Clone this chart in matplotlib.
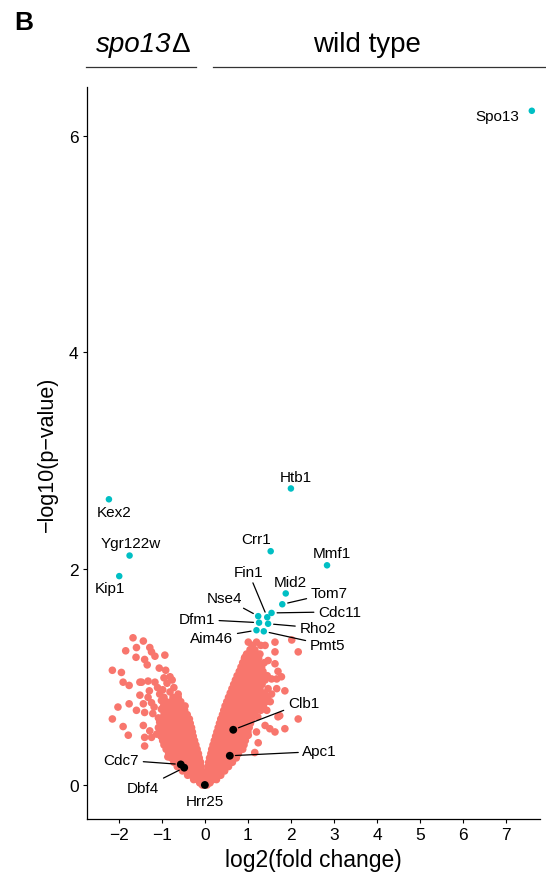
import matplotlib
matplotlib.use("Agg")
import matplotlib.pyplot as plt
from matplotlib.lines import Line2D

plt.rcParams['font.family'] = ['Liberation Sans', 'DejaVu Sans']

SALMON = '#F8766D'
TEAL = '#00BFC4'

# significant hits (log2 fold change, -log10 p)
hit_genes = ['Spo13', 'Htb1', 'Kex2', 'Ygr122w', 'Kip1', 'Crr1', 'Mmf1', 'Mid2',
             'Tom7', 'Cdc11', 'Fin1', 'Nse4', 'Dfm1', 'Rho2', 'Aim46', 'Pmt5']
hit_lfc = [7.60, 2.00, -2.23, -1.75, -1.99, 1.53, 2.84, 1.88,
           1.80, 1.55, 1.45, 1.24, 1.26, 1.47, 1.20, 1.37]
hit_logp = [6.23, 2.74, 2.64, 2.12, 1.93, 2.16, 2.03, 1.77,
            1.67, 1.59, 1.55, 1.56, 1.50, 1.49, 1.43, 1.42]

# marked cell-cycle genes
key_genes = ['Clb1', 'Apc1', 'Cdc7', 'Dbf4', 'Hrr25']
key_lfc = [0.66, 0.58, -0.56, -0.48, 0.0]
key_logp = [0.51, 0.27, 0.19, 0.16, 0.0]

# the rest of the proteins, dense part of the volcano, one row per p level
left_arm = [
    (0.00, [-0.06, 0.05]),
    (0.02, [-0.12, -0.05, 0.0]),
    (0.05, [-0.26, -0.17, -0.08, -0.02]),
    (0.09, [-0.40, -0.31, -0.22, -0.13, -0.05]),
    (0.13, [-0.52, -0.43, -0.34, -0.25, -0.16, -0.07]),
    (0.17, [-0.64, -0.55, -0.46, -0.37, -0.28, -0.19, -0.09]),
    (0.21, [-0.72, -0.63, -0.54, -0.45, -0.36, -0.27, -0.18, -0.10]),
    (0.25, [-0.78, -0.69, -0.60, -0.51, -0.42, -0.33, -0.24, -0.13]),
    (0.29, [-0.84, -0.75, -0.66, -0.57, -0.48, -0.39, -0.30, -0.21, -0.15]),
    (0.33, [-0.90, -0.81, -0.72, -0.63, -0.54, -0.45, -0.36, -0.27, -0.18]),
    (0.37, [-0.95, -0.85, -0.76, -0.67, -0.58, -0.49, -0.40, -0.31, -0.21]),
    (0.41, [-0.98, -0.89, -0.80, -0.71, -0.62, -0.53, -0.44, -0.35, -0.24]),
    (0.45, [-1.02, -0.92, -0.83, -0.74, -0.65, -0.56, -0.47, -0.38, -0.27]),
    (0.49, [-1.05, -0.95, -0.86, -0.77, -0.68, -0.59, -0.50, -0.40, -0.29]),
    (0.53, [-1.08, -0.98, -0.88, -0.79, -0.70, -0.61, -0.52, -0.42, -0.31]),
    (0.57, [-1.00, -0.91, -0.82, -0.73, -0.64, -0.55, -0.45, -0.34]),
    (0.61, [-0.97, -0.88, -0.79, -0.70, -0.61, -0.52, -0.43, -0.36]),
    (0.65, [-0.95, -0.86, -0.77, -0.68, -0.59, -0.50, -0.41]),
    (0.69, [-0.92, -0.83, -0.74, -0.65, -0.56, -0.47]),
    (0.73, [-0.96, -0.87, -0.76, -0.64, -0.54, -0.46]),
    (0.77, [-0.90, -0.78, -0.66, -0.56]),
    (0.81, [-0.95, -0.74, -0.62]),
]
right_arm = [
    (0.02, [0.05, 0.12]),
    (0.05, [0.03, 0.11, 0.19, 0.27]),
    (0.09, [0.05, 0.13, 0.21, 0.29, 0.37]),
    (0.13, [0.06, 0.14, 0.22, 0.30, 0.38, 0.46]),
    (0.17, [0.07, 0.15, 0.23, 0.31, 0.39, 0.47, 0.55]),
    (0.21, [0.09, 0.17, 0.25, 0.33, 0.41, 0.49, 0.57, 0.64]),
    (0.25, [0.11, 0.19, 0.28, 0.37, 0.46, 0.55, 0.64, 0.73]),
    (0.29, [0.14, 0.22, 0.31, 0.40, 0.49, 0.58, 0.67, 0.78]),
    (0.33, [0.16, 0.25, 0.34, 0.43, 0.52, 0.61, 0.70, 0.80, 0.88]),
    (0.37, [0.19, 0.28, 0.37, 0.46, 0.55, 0.64, 0.73, 0.82, 0.91]),
    (0.41, [0.22, 0.31, 0.40, 0.49, 0.58, 0.67, 0.76, 0.85, 0.94]),
    (0.45, [0.25, 0.34, 0.43, 0.52, 0.61, 0.70, 0.79, 0.88, 0.97]),
    (0.49, [0.28, 0.37, 0.46, 0.55, 0.64, 0.73, 0.82, 0.91, 1.00]),
    (0.53, [0.31, 0.40, 0.49, 0.58, 0.67, 0.76, 0.85, 0.94, 1.03]),
    (0.57, [0.34, 0.43, 0.52, 0.61, 0.70, 0.79, 0.88, 0.97, 1.06]),
    (0.61, [0.37, 0.46, 0.55, 0.64, 0.73, 0.82, 0.91, 1.00, 1.09]),
    (0.65, [0.41, 0.50, 0.59, 0.68, 0.77, 0.86, 0.95, 1.04, 1.14]),
    (0.69, [0.44, 0.53, 0.62, 0.71, 0.80, 0.89, 0.98, 1.07, 1.18, 1.30]),
    (0.73, [0.47, 0.56, 0.65, 0.74, 0.83, 0.92, 1.01, 1.10, 1.22, 1.36]),
    (0.77, [0.51, 0.60, 0.69, 0.78, 0.87, 0.96, 1.05, 1.15, 1.27, 1.42, 1.52]),
    (0.81, [0.55, 0.64, 0.73, 0.82, 0.91, 1.00, 1.09, 1.19, 1.31, 1.45]),
    (0.85, [0.59, 0.68, 0.77, 0.86, 0.95, 1.04, 1.13, 1.24, 1.38]),
    (0.89, [0.63, 0.72, 0.81, 0.90, 0.99, 1.08, 1.17, 1.28, 1.47]),
    (0.93, [0.67, 0.78, 0.89, 1.00, 1.11, 1.21, 1.33]),
    (0.97, [0.71, 0.82, 0.93, 1.04, 1.16, 1.25, 1.40]),
    (1.01, [0.75, 0.86, 0.97, 1.08, 1.20, 1.30, 1.45]),
    (1.05, [0.80, 0.92, 1.04, 1.16, 1.25, 1.35]),
    (1.09, [0.84, 0.96, 1.08, 1.20, 1.32]),
    (1.13, [0.88, 1.00, 1.12, 1.24, 1.38]),
    (1.17, [0.92, 1.03, 1.14, 1.25]),
    (1.21, [0.97, 1.12, 1.22]),
    (1.25, [1.05, 1.16]),
    (1.29, [1.10, 1.30]),
]
# scattered proteins away from the dense arms
loose_lfc = [-1.67, -1.43, -1.59, -1.84, -1.28, -1.24, -1.60, -1.40, -1.16, -0.93,
             -1.34, -1.06, -0.91, -2.15, -1.94, -0.81, -1.90, -1.76, -1.51, -1.32,
             -1.16, -0.88, -1.29, -1.51, -1.32, -1.05, -0.81, -0.70, -2.02, -1.76,
             -1.59, -1.43, -1.24, -1.01, -1.40, -1.21, -1.01, -0.85, -0.66, -2.15,
             -1.90, -1.78, -1.43, -1.28, -1.05, -0.89, -1.40, -1.12, -1.24, -1.40,
             -0.86, -1.47, -1.10, -0.98, -0.72, -0.62, -0.95, -1.18, -1.08, -0.76,
             1.01, 1.20, 1.40, 1.63, 2.02, 2.17, 1.09, 1.28, 1.63, 0.93,
             1.47, 1.63, 1.70, 1.78, 1.55, 1.67, 1.67, 1.86, 1.74, 2.17,
             1.86, 1.51, 1.20, 1.63, 1.40, 1.24, 1.01, 1.70, 1.16, 1.23,
             1.44, 1.28, 1.55, 1.12]
loose_logp = [1.36, 1.33, 1.27, 1.24, 1.27, 1.23, 1.18, 1.16, 1.19, 1.20,
              1.11, 1.08, 1.06, 1.06, 1.04, 1.00, 0.95, 0.92, 0.95, 0.96,
              0.95, 0.94, 0.87, 0.83, 0.81, 0.84, 0.86, 0.79, 0.72, 0.75,
              0.69, 0.75, 0.76, 0.78, 0.67, 0.66, 0.70, 0.66, 0.67, 0.61,
              0.54, 0.46, 0.55, 0.50, 0.58, 0.52, 0.44, 0.47, 0.44, 0.36,
              0.26, 0.95, 0.90, 0.88, 0.90, 0.84, 0.99, 0.72, 0.62, 0.97,
              1.32, 1.32, 1.29, 1.32, 1.34, 1.23, 1.24, 1.21, 1.23, 1.18,
              1.15, 1.12, 1.05, 1.00, 0.98, 0.98, 0.89, 0.87, 0.64, 0.61,
              0.52, 0.52, 0.49, 0.49, 0.55, 0.39, 0.46, 0.63, 0.30, 0.63,
              0.69, 0.73, 0.84, 0.92]

# where each name is written, and whether it needs a leader line
label_pos = {
    'Spo13': (6.79, 6.18, False), 'Htb1': (2.12, 2.85, False),
    'Kex2': (-2.12, 2.52, False), 'Ygr122w': (-1.73, 2.24, False),
    'Kip1': (-2.21, 1.82, False), 'Crr1': (1.19, 2.27, False),
    'Mmf1': (2.95, 2.14, False), 'Mid2': (1.99, 1.88, False),
    'Tom7': (2.89, 1.77, True), 'Cdc11': (3.13, 1.60, True),
    'Fin1': (1.01, 1.97, True), 'Nse4': (0.45, 1.73, True),
    'Dfm1': (-0.19, 1.53, True), 'Rho2': (2.62, 1.45, True),
    'Aim46': (0.16, 1.36, True), 'Pmt5': (2.85, 1.29, True),
    'Clb1': (2.29, 0.76, True), 'Apc1': (2.67, 0.31, True),
    'Cdc7': (-1.94, 0.23, True), 'Dbf4': (-1.43, -0.03, True),
    'Hrr25': (-0.01, -0.15, False),
}


def label(ax, name, x, y):
    tx, ty, leader = label_pos[name]
    if leader:
        ax.annotate(name, xy=(x, y), xytext=(tx, ty), fontsize=11,
                    ha='center', va='center',
                    arrowprops=dict(arrowstyle='-', color='black', lw=0.9,
                                    shrinkA=1, shrinkB=4))
    else:
        ax.text(tx, ty, name, fontsize=11, ha='center', va='center')


def main():
    fig = plt.figure(figsize=(5.46, 8.78), dpi=100)
    ax = fig.add_axes([0.1593, 0.0661, 0.989 - 0.1593, 0.8998 - 0.0661])

    cx, cy = [], []
    for y, xs in left_arm + right_arm:
        cx += xs
        cy += [y] * len(xs)
    cx += loose_lfc
    cy += loose_logp
    ax.scatter(cx, cy, s=30, color=SALMON, edgecolors='none', zorder=2)
    ax.scatter(hit_lfc, hit_logp, s=22, color=TEAL, edgecolors='none', zorder=3)
    ax.scatter(key_lfc, key_logp, s=32, color='black', edgecolors='none', zorder=4)

    for g, x, y in zip(hit_genes, hit_lfc, hit_logp):
        label(ax, g, x, y)
    for g, x, y in zip(key_genes, key_lfc, key_logp):
        label(ax, g, x, y)

    ax.set_xlim(-2.74, 7.79)
    ax.set_ylim(-0.314, 6.45)
    ax.set_xticks(range(-2, 8))
    ax.set_yticks([0, 2, 4, 6])
    ax.spines['top'].set_visible(False)
    ax.spines['right'].set_visible(False)
    for s in ('left', 'bottom'):
        ax.spines[s].set_linewidth(0.9)
    ax.tick_params(length=3, width=0.8, labelsize=12.5, pad=3)
    ax.set_xlabel('log2(fold change)', fontsize=16.5, labelpad=4)
    ax.set_ylabel('\u2212log10(p\u2212value)', fontsize=15.5, labelpad=8)

    # panel letter and the two strain headers
    fig.text(0.044, 0.974, 'B', fontsize=19, fontweight='bold', ha='center', va='center')
    fig.text(0.3132, 0.9487, 'spo13', fontsize=20, style='italic',
             ha='right', va='center')
    fig.text(0.3132, 0.9487, '\u0394', fontsize=20, ha='left', va='center')
    fig.text(0.672, 0.9487, 'wild type', fontsize=20, ha='center', va='center')
    fig.add_artist(Line2D([0.1575, 0.359], [0.9229, 0.9229], color='#333333', lw=0.9))
    fig.add_artist(Line2D([0.3896, 1.0], [0.9229, 0.9229], color='#333333', lw=0.9))

    fig.savefig('out.png', dpi=100)


if __name__ == "__main__":
    main()
